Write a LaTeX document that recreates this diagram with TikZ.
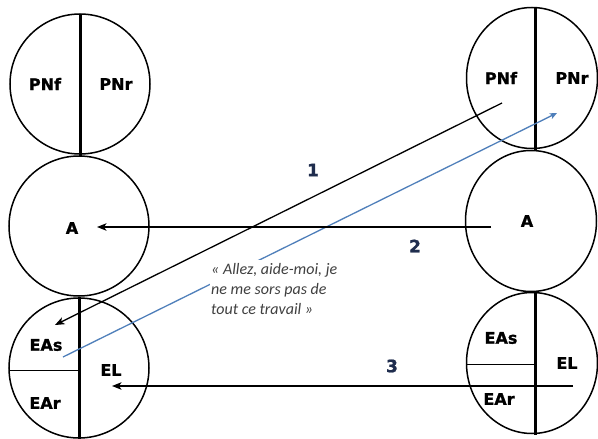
\documentclass[tikz,border=0pt]{standalone}
\usepackage{fontspec}
\setmainfont{DejaVu Sans}
\newfontfamily\heavyfont[FakeBold=1.2]{DejaVu Sans Bold}
\newfontfamily\quotefont{Carlito}
\usetikzlibrary{arrows.meta,shapes.geometric}
\definecolor{arrowblue}{HTML}{4F7FBA}
\definecolor{numnavy}{HTML}{1F2D4E}
\definecolor{quotegray}{HTML}{404040}
\begin{document}
\begin{tikzpicture}[x=1pt,y=-1pt,
  circ/.style={circle,draw,line width=1.5pt,minimum size=140pt,inner sep=0pt},
  rcirc/.style={ellipse,draw,line width=1.5pt,minimum width=131pt,minimum height=141pt,inner sep=0pt},
  divider/.style={line width=3pt},
  thindiv/.style={line width=1pt},
  lab/.style={font=\heavyfont\fontsize{16}{16}\selectfont,inner sep=0pt},
  num/.style={font=\heavyfont\fontsize{17}{17}\selectfont,text=numnavy,inner sep=0pt},
  blackarrow/.style={line width=1.3pt,-{Stealth[length=9.5pt,width=7.5pt,inset=2.5pt]}},
  bluearrow/.style={line width=1.3pt,draw=arrowblue,-{Stealth[length=7pt,width=6pt,inset=1.5pt]}},
  quote/.style={font=\quotefont\itshape\fontsize{16}{20}\selectfont,text=quotegray,fill=white,align=left,inner xsep=1pt,inner ysep=3.5pt,anchor=north west}
]
\useasboundingbox (0,0) rectangle (598,439);
\fill[white] (0,0) rectangle (598,439);
\clip (0,0) rectangle (598,439);

% circles
\node[circ] (L1) at (80,84) {};
\node[circ] (L2) at (79,226) {};
\node[circ] (L3) at (79,368) {};
\node[rcirc] (R1) at (532,78) {};
\node[rcirc] (R2) at (531,221) {};
\node[rcirc] (R3) at (532,363) {};

% dividers
\coordinate (L1t) at (80,14);
\coordinate (L1b) at (80,156);
\coordinate (L3t) at (79,297);
\coordinate (L3b) at (79,445);
\coordinate (L3m) at (79,370);
\coordinate (L3w) at (9,370);
\coordinate (R1t) at (535,7);
\coordinate (R1b) at (535,150);
\coordinate (R3t) at (535,292);
\coordinate (R3b) at (535,435);
\coordinate (R3m) at (535,364);
\coordinate (R3w) at (466,364);
\draw[divider] (L1t) -- (L1b);
\draw[divider] (L3t) -- (L3b);
\draw[thindiv] (L3w) -- (L3m);
\draw[divider] (R1t) -- (R1b);
\draw[divider] (R3t) -- (R3b);
\draw[thindiv] (R3w) -- (R3m);

% labels left
\node[lab] (lpnf) at (45,84) {PNf};
\node[lab] (lpnr) at (116,84) {PNr};
\node[lab] (la) at (72,228) {A};
\node[lab] (leas) at (46,345) {EAs};
\node[lab] (lel) at (111,370) {EL};
\node[lab] (lear) at (45,403) {EAr};
% labels right
\node[lab] (rpnf) at (501,78) {PNf};
\node[lab] (rpnr) at (572,78) {PNr};
\node[lab] (ra) at (527,221) {A};
\node[lab] (reas) at (501,338) {EAs};
\node[lab] (rel) at (567,363) {EL};
\node[lab] (rear) at (499,399) {EAr};

% arrow end points
\coordinate (a1s) at (502,103);
\coordinate (a1e) at (55,325);
\coordinate (a2s) at (491,227);
\coordinate (a2e) at (97,227);
\coordinate (a3s) at (573,386);
\coordinate (a3e) at (112,386);
\coordinate (bs) at (63,357);
\coordinate (be) at (557,113);

\draw[bluearrow] (bs) -- (be);
\draw[blackarrow] (a1s) -- (a1e);
\draw[blackarrow] (a2s) -- (a2e);
\draw[blackarrow] (a3s) -- (a3e);

% numbers
\node[num] (n1) at (313,170) {1};
\node[num] (n2) at (415,246) {2};
\node[num] (n3) at (392,366) {3};

% quote
\node[quote] (q) at (210,260) {« Allez, aide-moi, je\\ne me sors pas de\\tout ce travail »};
\end{tikzpicture}
\end{document}
